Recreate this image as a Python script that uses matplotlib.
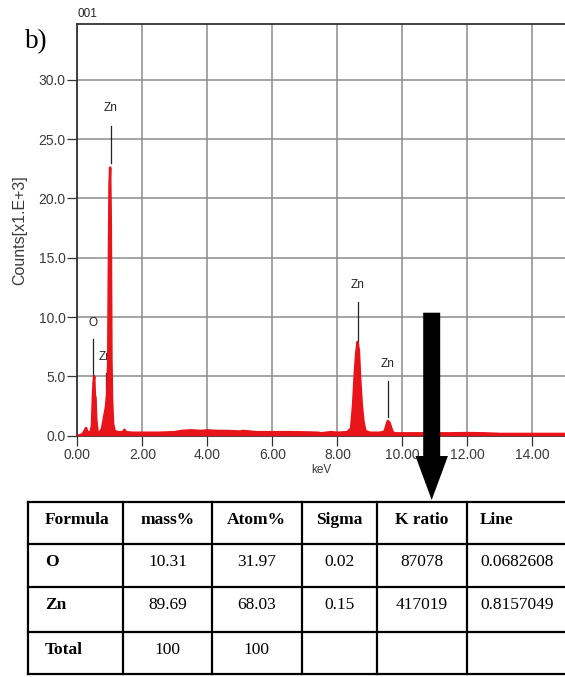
import matplotlib
matplotlib.use("Agg")
from matplotlib import pyplot as plt

# spectrum: energy in keV, counts in thousands
energy = [0.00, 0.10, 0.18, 0.24, 0.27, 0.30, 0.34, 0.40, 0.45, 0.48, 0.50, 0.52,
          0.54, 0.56, 0.58, 0.62, 0.70, 0.76, 0.80, 0.84, 0.88, 0.92, 0.95, 0.97,
          0.99, 1.01, 1.03, 1.05, 1.07, 1.10, 1.15, 1.25, 1.40, 1.45, 1.50, 1.70,
          2.00, 2.50, 3.00, 3.20, 3.50, 3.80, 4.00, 4.30, 4.60, 5.00, 5.10, 5.50,
          6.00, 6.50, 7.00, 7.40, 7.50, 7.80, 8.00, 8.30, 8.42, 8.48, 8.54, 8.58,
          8.62, 8.66, 8.70, 8.75, 8.80, 8.86, 9.00, 9.30, 9.45, 9.50, 9.55, 9.60,
          9.65, 9.70, 9.78, 10.00, 10.50, 11.00, 11.50, 12.00, 12.50, 13.00, 14.00, 15.00]
counts = [0.0, 0.05, 0.2, 0.5, 0.65, 0.4, 0.25, 0.3, 0.8, 3.3, 4.5, 5.0,
          3.4, 3.2, 1.5, 0.35, 0.3, 0.6, 1.2, 1.8, 2.4, 3.5, 6.2, 14.0,
          21.0, 22.6, 18.0, 6.5, 3.0, 1.0, 0.4, 0.3, 0.3, 0.5, 0.3, 0.25,
          0.25, 0.25, 0.3, 0.4, 0.45, 0.4, 0.45, 0.4, 0.4, 0.35, 0.4, 0.3,
          0.3, 0.3, 0.28, 0.25, 0.2, 0.3, 0.25, 0.3, 0.6, 2.5, 5.5, 7.0,
          7.9, 7.2, 4.8, 2.6, 1.2, 0.4, 0.25, 0.25, 0.35, 0.8, 1.25, 1.1,
          0.7, 0.3, 0.2, 0.2, 0.2, 0.2, 0.2, 0.22, 0.2, 0.15, 0.15, 0.15]

# peak markers
peak_names = ["O", "Zn", "Zn", "Zn", "Zn"]
peak_keV = [0.49, 0.87, 1.03, 8.62, 9.55]
marker_low = [4.9, 2.2, 23.0, 7.9, 1.6]
marker_high = [8.15, 5.3, 26.1, 11.3, 4.6]
label_y = [9.5, 6.65, 27.6, 12.7, 6.05]

# quantification table
table_header = ["Formula", "mass%", "Atom%", "Sigma", "K ratio", "Line"]
table_rows = [
    ["O", "10.31", "31.97", "0.02", "87078", "0.0682608"],
    ["Zn", "89.69", "68.03", "0.15", "417019", "0.8157049"],
    ["Total", "100", "100", "", "", ""],
]

W, H = 565, 677
fig = plt.figure(figsize=(W / 100, H / 100), dpi=100)

sans = "Liberation Sans"
serif = "Liberation Serif"
tick_col = "#3a3a3a"

ax = fig.add_axes([77.3 / W, 1 - 435.7 / H, 1 - 77.3 / W, (435.7 - 24) / H])
ax.set_xlim(0, 15.0)
ax.set_ylim(0, 34.7)
ax.set_xticks([0, 2, 4, 6, 8, 10, 12, 14])
ax.set_xticklabels(["0.00", "2.00", "4.00", "6.00", "8.00", "10.00", "12.00", "14.00"])
ax.set_yticks([0, 5, 10, 15, 20, 25, 30])
ax.set_yticklabels(["0.0", "5.0", "10.0", "15.0", "20.0", "25.0", "30.0"])
ax.grid(True, color="#8c8c8c", lw=1.1)
ax.set_axisbelow(True)
ax.tick_params(direction="out", length=7, width=0.9, color="#333333", pad=1.5,
               labelsize=10, labelcolor=tick_col)
for lab in ax.get_xticklabels() + ax.get_yticklabels():
    lab.set_family(sans)
ax.spines["right"].set_visible(False)
for s in ["left", "top", "bottom"]:
    ax.spines[s].set_color("#333333")
    ax.spines[s].set_linewidth(1.3)

ax.fill_between(energy, counts, 0, color="#e8141a", lw=0, zorder=3)
ax.plot(energy, counts, color="#e8141a", lw=1.8, zorder=3)

for name, x, lo, hi, ly in zip(peak_names, peak_keV, marker_low, marker_high, label_y):
    ax.plot([x, x], [lo, hi], color="#222222", lw=0.9, zorder=2)
    ax.text(x, ly, name, ha="center", va="center", fontsize=8.5, family=sans,
            color="#222222", zorder=2)

ax.set_xlabel("keV", fontsize=8.5, family=sans, color=tick_col, labelpad=2)
ax.set_ylabel("Counts[x1.E+3]", fontsize=11.5, family=sans, color=tick_col, labelpad=8)

# overlay in pixel coordinates for table, arrow and labels
ov = fig.add_axes([0, 0, 1, 1])
ov.set_xlim(0, W)
ov.set_ylim(H, 0)
ov.axis("off")

ov.text(36, 42, "b)", ha="center", va="center", fontsize=19.5, family=serif)
ov.text(87, 14, "001", ha="center", va="center", fontsize=8.5, family=sans, color="#222222")

col_edges = [28.3, 123.3, 211.7, 301.7, 377.3, 466.7, 575]
row_edges = [501.7, 544, 587.3, 631.7, 674]
for y in row_edges:
    ov.plot([col_edges[0], col_edges[-1]], [y, y], color="black", lw=1.6)
for x in col_edges:
    ov.plot([x, x], [row_edges[0], row_edges[-1]], color="black", lw=1.6)

all_rows = [table_header] + table_rows
for r, row in enumerate(all_rows):
    yb = row_edges[r] + 22
    for c, txt in enumerate(row):
        bold = (r == 0) or (c == 0)
        if c == 0:
            x, ha = col_edges[0] + 16.7, "left"
        elif c == 5:
            x, ha = col_edges[5] + 13.3, "left"
        else:
            x, ha = (col_edges[c] + col_edges[c + 1]) / 2, "center"
        ov.text(x, yb, txt, ha=ha, va="baseline", fontsize=12.5, family=serif,
                fontweight="bold" if bold else "normal")

ov.arrow(431.7, 312.7, 0, 500 - 312.7, width=17, head_width=32.5, head_length=44,
         length_includes_head=True, color="black", lw=0, zorder=10)

fig.savefig("out.png", dpi=100)
